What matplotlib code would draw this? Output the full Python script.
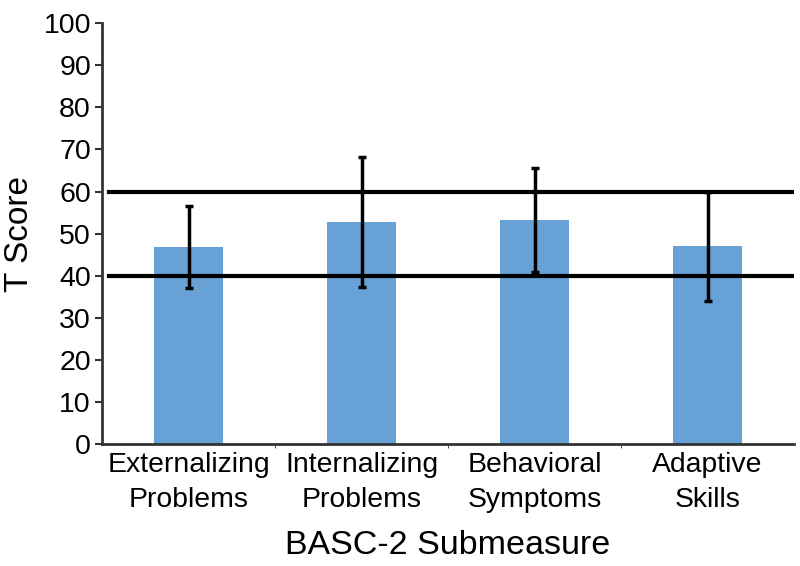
import matplotlib.pyplot as plt
import numpy as np

plt.rcParams['font.family'] = ['Liberation Sans', 'DejaVu Sans']

categorias = ['Externalizing\nProblems', 'Internalizing\nProblems',
              'Behavioral\nSymptoms', 'Adaptive\nSkills']
medias = [46.8, 52.8, 53.2, 47.0]
erros = [9.8, 15.5, 12.3, 13.0]
limites = [40, 60]

fig = plt.figure(figsize=(8, 5.66), dpi=100)
ax = fig.add_axes([0.1275, 0.2155, 0.865, 0.7435])

x = np.arange(len(categorias))
ax.bar(x, medias, width=0.4, color='#68a1d6', zorder=1)
for lim in limites:
    ax.axhline(lim, xmin=0.01, xmax=1.0, color='black', lw=3, zorder=2)
ax.errorbar(x, medias, yerr=erros, fmt='none', ecolor='black',
            elinewidth=2.5, capsize=3, capthick=2.5, zorder=3)

ax.set_xlim(-0.5, 3.5)
ax.set_ylim(0, 100)
ax.set_yticks(range(0, 101, 10))
ax.set_xticks(x)
ax.set_xticklabels(categorias, fontsize=20.4, linespacing=1.45)
ax.set_xticks([0.5, 1.5, 2.5], minor=True)
ax.tick_params(axis='x', which='major', length=0, pad=6)
ax.tick_params(axis='x', which='minor', length=3, color='#333333')
ax.tick_params(axis='y', labelsize=20.5, length=5, width=1.5, color='#333333', pad=3)

ax.spines['top'].set_visible(False)
ax.spines['right'].set_visible(False)
ax.spines['left'].set_linewidth(2)
ax.spines['bottom'].set_linewidth(2)
ax.spines['left'].set_color('#333333')
ax.spines['bottom'].set_color('#333333')

ax.set_ylabel('T Score', fontsize=24, labelpad=6)
ax.set_xlabel('BASC-2 Submeasure', fontsize=24.5, labelpad=12)

plt.savefig('out.png', dpi=100)
